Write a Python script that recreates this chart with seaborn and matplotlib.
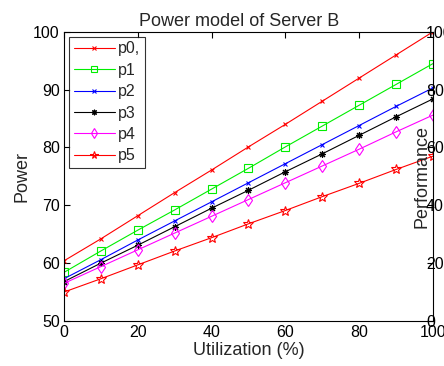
import numpy as np
import pandas as pd
import matplotlib
matplotlib.use("Agg")
import matplotlib.pyplot as plt
import seaborn as sns

utilization = [0, 10, 20, 30, 40, 50, 60, 70, 80, 90, 100]
p0 = [60.4, 64.2, 68.2, 72.2, 76.1, 80.1, 84.0, 88.0, 92.0, 96.0, 100.0]
p1 = [58.4, 62.1, 65.7, 69.2, 72.8, 76.4, 80.1, 83.7, 87.3, 90.9, 94.5]
p2 = [57.3, 60.6, 64.0, 67.3, 70.6, 73.9, 77.2, 80.5, 83.8, 87.1, 90.3]
p3 = [56.8, 60.0, 63.1, 66.3, 69.5, 72.6, 75.8, 78.9, 82.1, 85.3, 88.4]
p4 = [56.5, 59.4, 62.3, 65.2, 68.1, 71.0, 73.9, 76.8, 79.7, 82.7, 85.6]
p5 = [55.0, 57.3, 59.7, 62.1, 64.4, 66.8, 69.1, 71.5, 73.8, 76.2, 78.5]
labels = ["p0,", "p1", "p2", "p3", "p4", "p5"]
series = [p0, p1, p2, p3, p4, p5]
left_ticks = [50, 60, 70, 80, 90, 100]
right_ticks = [0, 20, 40, 60, 80, 100]
x_ticks = [0, 20, 40, 60, 80, 100]

colors = ["#ff0000", "#00ee00", "#0000ff", "#000000", "#ff00ff", "#ff0000"]
markers = ["x", "s", "x", (8, 2, 0), "d", "*"]
msizes = [3.5, 5.5, 3.5, 5, 6, 7]

sns.set_theme(style="white")
plt.rcParams["font.family"] = ["Liberation Sans", "DejaVu Sans"]

df = pd.DataFrame({"Utilization": np.tile(utilization, len(series)),
                   "Power": np.concatenate(series),
                   "series": np.repeat(labels, len(utilization))})

fig = plt.figure(figsize=(4.44, 3.66), dpi=100)
ax = fig.add_axes([0.144, 0.123, 0.831, 0.79])

for lab, c, m, ms in zip(labels, colors, markers, msizes):
    sub = df[df["series"] == lab]
    sns.lineplot(data=sub, x="Utilization", y="Power", ax=ax, color=c,
                 marker=m, markersize=ms, markerfacecolor="none",
                 markeredgecolor=c, markeredgewidth=0.8, linewidth=0.8,
                 label=lab)

ax.set_xlim(0, 100)
ax.set_ylim(50, 100)
ax.set_xticks(x_ticks)
ax.set_yticks(left_ticks)
ax.tick_params(direction="in", length=4, width=0.8, labelsize=11.5, top=True,
               right=False, pad=3, colors="black")
for s in ax.spines.values():
    s.set_color("black")
    s.set_linewidth(0.8)
ax.set_xlabel("Utilization (%)", fontsize=13, labelpad=1)
ax.set_ylabel("Power", fontsize=13, labelpad=2)
ax.set_title("Power model of Server B", fontsize=13, pad=4, x=0.475)

leg = ax.legend(loc="upper left", fontsize=11.5, frameon=True, fancybox=False,
                edgecolor="black", handlelength=2.6, handletextpad=0.2,
                borderpad=0.3, labelspacing=0.4, borderaxespad=0.3,
                markerscale=0.8)
leg.get_frame().set_linewidth(0.8)

ax2 = ax.twinx()
ax2.set_ylim(0, 100)
ax2.set_yticks(right_ticks)
ax2.tick_params(direction="in", length=4, width=0.8, labelsize=11.5, pad=-5,
                colors="black")
ax2.set_ylabel("Performance", fontsize=13)
ax2.yaxis.set_label_coords(0.948, 0.5)
for s in ax2.spines.values():
    s.set_visible(False)

fig.savefig("out.png", dpi=100)
